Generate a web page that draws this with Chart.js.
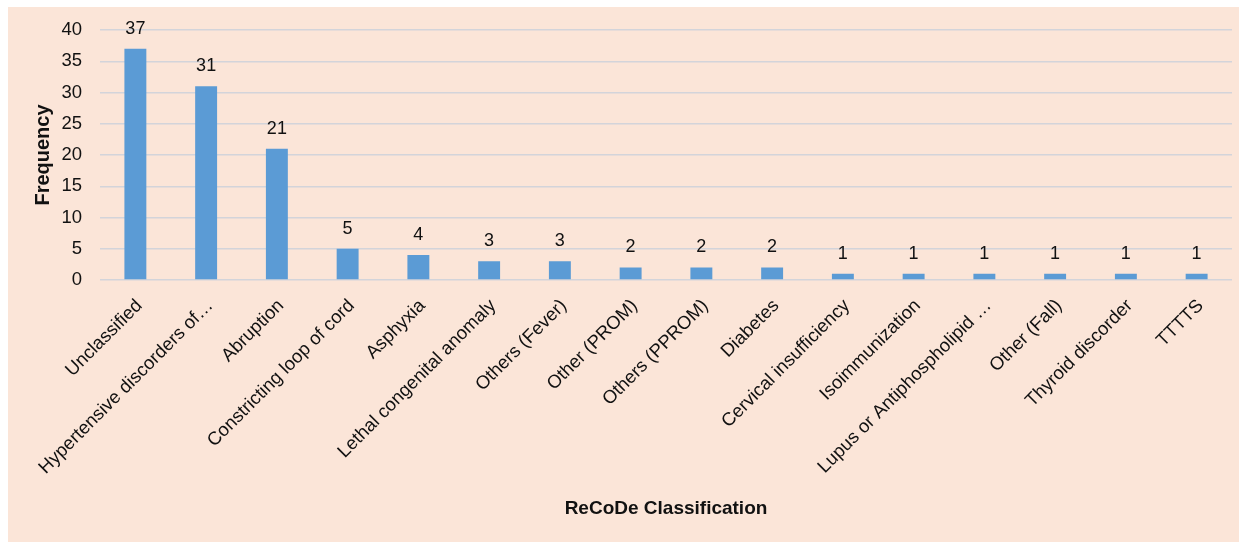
<!DOCTYPE html>
<html>
<head>
<meta charset="utf-8">
<script src="https://cdn.jsdelivr.net/npm/chart.js@4.4.1/dist/chart.umd.min.js"></script>
<style>
html,body{margin:0;padding:0;background:#fff;}
canvas{display:block;}
</style>
</head>
<body>
<canvas id="c" width="1239" height="542"></canvas>
<script>
const categories = [
  "Unclassified",
  "Hypertensive discorders of\u2026",
  "Abruption",
  "Constricting loop of cord",
  "Asphyxia",
  "Lethal congenital anomaly",
  "Others (Fever)",
  "Other (PROM)",
  "Others (PPROM)",
  "Diabetes",
  "Cervical insufficiency",
  "Isoimmunization",
  "Lupus or Antiphospholipid \u2026",
  "Other (Fall)",
  "Thyroid discorder",
  "TTTTS"
];
const frequency = [37, 31, 21, 5, 4, 3, 3, 2, 2, 2, 1, 1, 1, 1, 1, 1];
const yTicks = [0, 5, 10, 15, 20, 25, 30, 35, 40];

const FONT = "'Liberation Sans', Arial, sans-serif";

const bgPlugin = {
  id: 'bg',
  beforeDraw(chart) {
    const ctx = chart.ctx;
    ctx.save();
    ctx.fillStyle = '#ffffff';
    ctx.fillRect(0, 0, chart.width, chart.height);
    ctx.fillStyle = '#FBE5D8';
    ctx.fillRect(8, 7, chart.width - 8, chart.height - 7);
    ctx.restore();
  }
};

const valueLabels = {
  id: 'valueLabels',
  afterDatasetsDraw(chart) {
    const ctx = chart.ctx;
    ctx.save();
    ctx.font = '18px ' + FONT;
    ctx.fillStyle = '#111';
    ctx.textAlign = 'center';
    ctx.textBaseline = 'middle';
    chart.data.datasets.forEach((ds, di) => {
      const meta = chart.getDatasetMeta(di);
      meta.data.forEach((bar, i) => {
        ctx.fillText(String(ds.data[i]), bar.x, bar.y - 20);
      });
    });
    ctx.restore();
  }
};

new Chart(document.getElementById('c'), {
  type: 'bar',
  data: {
    labels: categories,
    datasets: [{
      label: 'Frequency',
      data: frequency,
      backgroundColor: '#5B9BD5',
      borderWidth: 0,
      categoryPercentage: 1,
      barPercentage: 0.31
    }]
  },
  options: {
    responsive: false,
    animation: false,
    layout: { padding: { top: 30, right: 7, bottom: 22, left: 31 } },
    plugins: {
      legend: { display: false },
      tooltip: { enabled: false }
    },
    scales: {
      x: {
        grid: { display: false, drawTicks: false },
        border: { display: false },
        ticks: {
          autoSkip: false,
          maxRotation: 45,
          minRotation: 45,
          padding: 15,
          labelOffset: 4,
          color: '#111',
          font: { family: FONT, size: 18.5 }
        },
        title: {
          display: true,
          text: 'ReCoDe Classification',
          color: '#111',
          padding: 0,
          font: { family: FONT, size: 19, weight: 'bold' }
        },
        afterFit(scale) { scale.height = 240; }
      },
      y: {
        min: 0,
        max: 40,
        afterBuildTicks(scale) { scale.ticks = yTicks.map(v => ({ value: v })); },
        grid: { color: '#D3D4DA', lineWidth: 1.5, drawTicks: false },
        border: { display: false },
        ticks: {
          padding: 18,
          color: '#111',
          font: { family: FONT, size: 18.5 }
        },
        title: {
          display: true,
          text: 'Frequency',
          color: '#111',
          padding: 0,
          font: { family: FONT, size: 20, weight: 'bold' }
        },
        afterFit(scale) { scale.width = 69; }
      }
    }
  },
  plugins: [bgPlugin, valueLabels]
});
</script>
</body>
</html>
